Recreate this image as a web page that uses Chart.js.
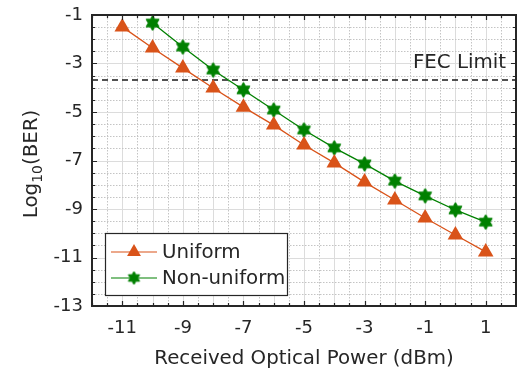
<!DOCTYPE html>
<html>
<head>
<meta charset="utf-8">
<script src="https://cdn.jsdelivr.net/npm/chart.js@4/dist/chart.umd.min.js"></script>
<style>
html,body{margin:0;padding:0;background:#fff;overflow:hidden;}
#wrap{position:relative;width:517px;height:372px;}
canvas{display:block;}
</style>
</head>
<body>
<div id="wrap"><canvas id="c" width="517" height="372"></canvas></div>
<script>
// ---- data ----
const powerUniform = [-11, -10, -9, -8, -7, -6, -5, -4, -3, -2, -1, 0, 1];
const berUniform = [-1.49, -2.36, -3.19, -4.01, -4.80, -5.54, -6.36, -7.10, -7.89, -8.63, -9.37, -10.07, -10.77];
const powerNonUniform = [-10, -9, -8, -7, -6, -5, -4, -3, -2, -1, 0, 1];
const berNonUniform = [-1.33, -2.32, -3.27, -4.09, -4.92, -5.74, -6.48, -7.14, -7.85, -8.46, -9.04, -9.54];
const fecLimit = -3.68;
const fecLabel = 'FEC Limit';
const xRange = [-12, 2];
const yRange = [-13, -1];
const xTickValues = [-11, -9, -7, -5, -3, -1, 1];
const seriesNames = ['Uniform', 'Non-uniform'];
const xTitle = 'Received Optical Power (dBm)';

const ORANGE = '#D95319';
const GREEN = '#008000';
const TXT = '#262626';
const FONT = '"DejaVu Sans", Verdana, sans-serif';
const LBL = 19.8;

function hexagram(r, color) {
  const c = document.createElement('canvas');
  const s = Math.ceil(r * 2 + 2);
  c.width = s; c.height = s;
  const g = c.getContext('2d');
  const cx = s / 2, cy = s / 2, ri = r * 0.58;
  g.beginPath();
  for (let i = 0; i < 12; i++) {
    const a = -Math.PI / 2 + i * Math.PI / 6;
    const rr = i % 2 === 0 ? r : ri;
    const px = cx + rr * Math.cos(a), py = cy + rr * Math.sin(a);
    i ? g.lineTo(px, py) : g.moveTo(px, py);
  }
  g.closePath();
  g.fillStyle = color; g.fill();
  g.strokeStyle = color; g.lineWidth = 1; g.stroke();
  return c;
}
const starImg = hexagram(7.5, GREEN);
const starImgSmall = hexagram(6.5, GREEN);

const decor = {
  id: 'decor',
  beforeDatasetsDraw(chart) {
    const { ctx, chartArea: a, scales: { x, y } } = chart;
    ctx.save();
    ctx.lineWidth = 1;
    for (let v = xRange[0]; v <= xRange[1] + 1e-9; v += 0.5) {
      const px = Math.round(x.getPixelForValue(v)) + 0.5;
      if (Number.isInteger(v)) { ctx.setLineDash([]); ctx.strokeStyle = '#dcdcdc'; }
      else { ctx.setLineDash([1.5, 1.5]); ctx.strokeStyle = '#c4c4c4'; }
      ctx.beginPath(); ctx.moveTo(px, a.top); ctx.lineTo(px, a.bottom); ctx.stroke();
    }
    for (let v = yRange[0]; v <= yRange[1] + 1e-9; v += 0.5) {
      const py = Math.round(y.getPixelForValue(v)) + 0.5;
      if (Number.isInteger(v) && Math.abs(v % 2) === 1) { ctx.setLineDash([]); ctx.strokeStyle = '#dcdcdc'; }
      else { ctx.setLineDash([1.5, 1.5]); ctx.strokeStyle = '#c4c4c4'; }
      ctx.beginPath(); ctx.moveTo(a.left, py); ctx.lineTo(a.right, py); ctx.stroke();
    }
    ctx.restore();
  },
  afterDatasetsDraw(chart) {
    const { ctx, chartArea: a, scales: { x, y } } = chart;
    ctx.save();
    ctx.strokeStyle = TXT; ctx.lineWidth = 1.2; ctx.setLineDash([]);
    for (let v = xRange[0]; v <= xRange[1] + 1e-9; v += 0.5) {
      const px = Math.round(x.getPixelForValue(v)) + 0.5;
      const len = (Number.isInteger(v) && Math.abs(v % 2) === 1) ? 5 : 3;
      ctx.beginPath(); ctx.moveTo(px, a.bottom); ctx.lineTo(px, a.bottom - len);
      ctx.moveTo(px, a.top); ctx.lineTo(px, a.top + len); ctx.stroke();
    }
    for (let v = yRange[0]; v <= yRange[1] + 1e-9; v += 0.5) {
      const py = Math.round(y.getPixelForValue(v)) + 0.5;
      const len = (Number.isInteger(v) && Math.abs(v % 2) === 1) ? 5 : 3;
      ctx.beginPath(); ctx.moveTo(a.left, py); ctx.lineTo(a.left + len, py);
      ctx.moveTo(a.right, py); ctx.lineTo(a.right - len, py); ctx.stroke();
    }
    ctx.lineWidth = 2;
    ctx.strokeRect(a.left, a.top, a.right - a.left, a.bottom - a.top);

    // x tick labels
    ctx.fillStyle = TXT;
    ctx.font = '18px ' + FONT;
    ctx.textAlign = 'center'; ctx.textBaseline = 'middle';
    xTickValues.forEach(v => ctx.fillText(String(v), x.getPixelForValue(v), a.bottom + 22));

    // FEC label
    ctx.font = LBL + 'px ' + FONT;
    ctx.textAlign = 'right'; ctx.textBaseline = 'middle';
    ctx.fillText(fecLabel, a.right - 10, y.getPixelForValue(fecLimit) - 17);

    // legend
    const lx = a.left + 13, ly = a.bottom - 73, lw = 182, lh = 62;
    ctx.fillStyle = '#fff';
    ctx.fillRect(lx, ly, lw, lh);
    ctx.strokeStyle = TXT; ctx.lineWidth = 1.2;
    ctx.strokeRect(lx + 0.5, ly + 0.5, lw, lh);
    const rows = [
      { name: seriesNames[0], color: ORANGE, kind: 'tri', yy: ly + 19 },
      { name: seriesNames[1], color: GREEN, kind: 'star', yy: ly + 45 }
    ];
    rows.forEach(r => {
      ctx.strokeStyle = r.color; ctx.lineWidth = 1.2;
      ctx.beginPath(); ctx.moveTo(lx + 6, r.yy); ctx.lineTo(lx + 52, r.yy); ctx.stroke();
      const mx = lx + 29;
      if (r.kind === 'tri') {
        const rr = 8;
        ctx.fillStyle = r.color;
        ctx.beginPath();
        ctx.moveTo(mx, r.yy - rr);
        ctx.lineTo(mx + rr * 0.866, r.yy + rr / 2);
        ctx.lineTo(mx - rr * 0.866, r.yy + rr / 2);
        ctx.closePath(); ctx.fill();
      } else {
        ctx.drawImage(starImgSmall, mx - starImgSmall.width / 2, r.yy - starImgSmall.height / 2);
      }
      ctx.fillStyle = TXT; ctx.font = LBL + 'px ' + FONT;
      ctx.textAlign = 'left'; ctx.textBaseline = 'middle';
      ctx.fillText(r.name, lx + 57, r.yy + 1);
    });

    // y title with subscript
    ctx.save();
    ctx.translate(30, 164);
    ctx.rotate(-Math.PI / 2);
    ctx.fillStyle = TXT; ctx.textBaseline = 'alphabetic'; ctx.textAlign = 'left';
    const big = LBL + 'px ' + FONT, small = '14px ' + FONT;
    ctx.font = big; const w1 = ctx.measureText('Log').width; const w3 = ctx.measureText('(BER)').width;
    ctx.font = small; const w2 = ctx.measureText('10').width;
    let sx = -(w1 + w2 + w3) / 2;
    const base = 7;
    ctx.font = big; ctx.fillText('Log', sx, base); sx += w1;
    ctx.font = small; ctx.fillText('10', sx, base + 5); sx += w2;
    ctx.font = big; ctx.fillText('(BER)', sx, base);
    ctx.restore();
    ctx.restore();
  }
};

new Chart(document.getElementById('c'), {
  type: 'scatter',
  data: {
    datasets: [
      {
        label: seriesNames[0],
        data: powerUniform.map((p, i) => ({ x: p, y: berUniform[i] })),
        showLine: true, borderColor: ORANGE, backgroundColor: ORANGE, borderWidth: 1.3,
        pointStyle: 'triangle', pointRadius: 9, pointHoverRadius: 9, pointBorderWidth: 0
      },
      {
        label: seriesNames[1],
        data: powerNonUniform.map((p, i) => ({ x: p, y: berNonUniform[i] })),
        showLine: true, borderColor: GREEN, backgroundColor: GREEN, borderWidth: 1.3,
        pointStyle: starImg, pointRadius: 8, pointHoverRadius: 8
      },
      {
        label: fecLabel,
        data: [{ x: xRange[0], y: fecLimit }, { x: xRange[1], y: fecLimit }],
        showLine: true, borderColor: '#1a1a1a', borderWidth: 1.6, borderDash: [6, 4],
        pointRadius: 0, pointHoverRadius: 0
      }
    ]
  },
  options: {
    responsive: false, animation: false,
    layout: { autoPadding: false, padding: { top: 15, right: 1, left: 0, bottom: 0 } },
    plugins: { legend: { display: false }, tooltip: { enabled: false } },
    scales: {
      x: {
        type: 'linear', min: xRange[0], max: xRange[1],
        grid: { display: false, drawTicks: false },
        border: { display: false },
        afterBuildTicks: s => { s.ticks = xTickValues.map(v => ({ value: v })); },
        ticks: { display: false },
        title: { display: true, text: xTitle, color: TXT, font: { family: FONT, size: LBL }, padding: { top: 2, bottom: 1 } },
        afterFit: s => { s.height = 66; s.paddingLeft = 0; s.paddingRight = 0; }
      },
      y: {
        type: 'linear', min: yRange[0], max: yRange[1],
        grid: { display: false, drawTicks: true, tickLength: 9 },
        border: { display: false },
        ticks: { stepSize: 2, padding: 0, color: TXT, font: { family: FONT, size: 18 } },
        afterFit: s => { s.width = 92; s.paddingTop = 0; s.paddingBottom = 0; }
      }
    }
  },
  plugins: [decor]
});
</script>
</body>
</html>
